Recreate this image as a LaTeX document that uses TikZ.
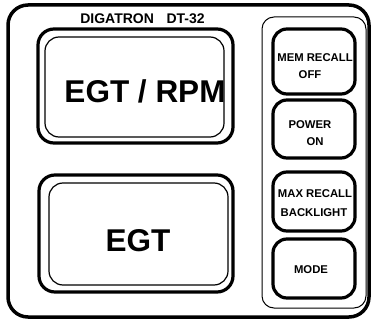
\documentclass[tikz,border=0pt]{standalone}
\usepackage{fontspec}
\setmainfont{Liberation Sans}
\begin{document}
\begin{tikzpicture}[x=1pt,y=-1pt,
  frame/.style={draw=black,rectangle,inner sep=0pt},
  thickframe/.style={frame,line width=3.2pt},
  thinframe/.style={frame,line width=1.2pt},
  btn/.style={frame,line width=3.2pt,rounded corners=14pt,minimum width=82pt},
  lbl/.style={inner sep=0pt,font=\bfseries\fontsize{11.3}{13}\selectfont},
  big/.style={inner sep=0pt,font=\bfseries\fontsize{31.5}{36}\selectfont},
]
\useasboundingbox (0,0) rectangle (371,320);
% outer case
\node[frame,line width=3.5pt,rounded corners=20pt,minimum width=361pt,minimum height=312pt] (case) at (188.5,161) {};
% title
\node[inner sep=0pt,font=\bfseries\fontsize{14}{16}\selectfont] (title) at (142.5,19) {DIGATRON\hspace{0.9em}DT-32};
% top display
\node[thickframe,rounded corners=16pt,minimum width=195pt,minimum height=114pt] (topout) at (135.5,86) {};
\node[thinframe,rounded corners=14pt,minimum width=179pt,minimum height=100pt] (topin) at (134.5,87) {};
\node[big] (egtrpm) at (145,91) {EGT / RPM};
% bottom display
\node[thickframe,rounded corners=16pt,minimum width=194pt,minimum height=117pt] (botout) at (136,233.5) {};
\node[thinframe,rounded corners=14pt,minimum width=179pt,minimum height=102pt] (botin) at (138.5,234) {};
\node[big] (egt) at (138,241) {EGT};
% button panel
\node[frame,line width=1pt,rounded corners=12pt,minimum width=104pt,minimum height=291pt] (panel) at (314,162.5) {};
\node[btn,minimum height=65pt] (b1) at (314,61.5) {};
\node[btn,minimum height=58pt] (b2) at (314,129) {};
\node[btn,minimum height=59pt] (b3) at (314,201.5) {};
\node[btn,minimum height=59pt] (b4) at (314,268.5) {};
\node[lbl] (t1a) at (315,58) {MEM RECALL};
\node[lbl] (t1b) at (310,75) {OFF};
\node[lbl] (t2a) at (310,125) {POWER};
\node[lbl] (t2b) at (315,142) {ON};
\node[lbl] (t3a) at (315,194) {MAX RECALL};
\node[lbl] (t3b) at (314,213) {BACKLIGHT};
\node[lbl] (t4) at (311,270) {MODE};
\end{tikzpicture}
\end{document}
